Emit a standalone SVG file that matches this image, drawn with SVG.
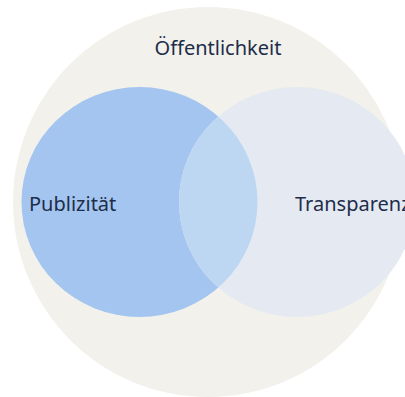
<svg xmlns="http://www.w3.org/2000/svg" width="405" height="397" viewBox="0 0 405 397">
  <style>
    .label { font-family: "Noto Sans", "Liberation Sans", sans-serif; font-size: 20px; fill: #1e2d4a; }
  </style>
  <defs>
    <clipPath id="clip-publizitaet">
      <ellipse cx="139.5" cy="202" rx="118" ry="115"/>
    </clipPath>
  </defs>
  <rect width="405" height="397" fill="#ffffff"/>

  <!-- outer set: Öffentlichkeit -->
  <g id="oeffentlichkeit">
    <circle cx="208" cy="202" r="195" fill="#f2f1eb"/>
    <text class="label" x="218" y="55" text-anchor="middle">Öffentlichkeit</text>
  </g>

  <!-- left set: Publizität -->
  <g id="publizitaet">
    <ellipse cx="139.5" cy="202" rx="118" ry="115" fill="#a3c5f0"/>
  </g>

  <!-- right set: Transparenz -->
  <g id="transparenz">
    <ellipse cx="297" cy="202" rx="118" ry="115" fill="#e5eaf2"/>
  </g>

  <!-- intersection of both sets -->
  <g id="schnittmenge">
    <ellipse cx="297" cy="202" rx="118" ry="115" fill="#bdd7f3" clip-path="url(#clip-publizitaet)"/>
  </g>

  <g id="labels">
    <text class="label" x="29" y="211">Publizität</text>
    <text class="label" x="295" y="211">Transparenz</text>
  </g>
</svg>
